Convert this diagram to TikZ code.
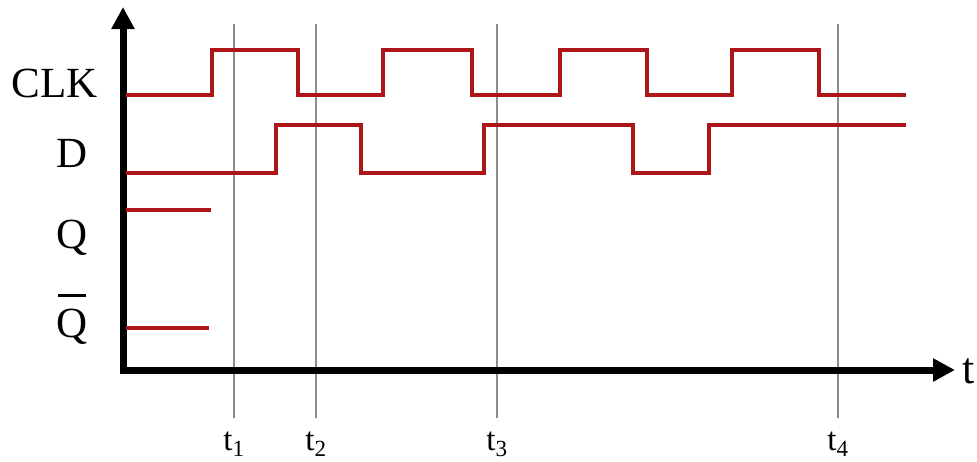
\documentclass[tikz,border=0pt]{standalone}
\usepackage{amsmath}
\usepackage{fontspec}
\setmainfont{Liberation Serif}
\usepackage{tikz}
\usetikzlibrary{arrows.meta}
\definecolor{wavered}{RGB}{172,22,24}
\definecolor{guidegray}{RGB}{140,140,140}
\newcommand{\barQ}{\setbox0\hbox{Q}\rlap{\hspace{2pt}\rule[40pt]{\dimexpr\wd0-4pt\relax}{3.5pt}}Q}
\tikzset{
  axis/.style={line width=7pt, line join=miter, {Triangle[length=22pt,width=22pt]}-{Triangle[length=22pt,width=22pt]}},
  wave/.style={wavered, line width=4pt, line join=miter},
  guide/.style={guidegray, line width=1.8pt},
  siglabel/.style={anchor=base, inner sep=0pt, font=\fontsize{43}{50}\selectfont},
  tlabel/.style={anchor=base, inner sep=0pt, font=\fontsize{33}{40}\selectfont}
}
\begin{document}
\begin{tikzpicture}[x=1pt, y=-1pt]
            \useasboundingbox (0,0) rectangle (977,461);
            \coordinate (ytip) at (123,7);
            \coordinate (xtip) at (955,370);
            \foreach \x/\n in {234/1,316/2,497/3,838/4}{
              \coordinate (top\n) at (\x,24);
              \coordinate (bot\n) at (\x,418);
              \draw[guide] (top\n) -- (bot\n);
              \node[tlabel] (t\n) at (\x,450) {t$_{\text{\n}}$};
            }
            \draw[axis] (ytip) |- (xtip);
            \draw[wave] (126,95) -| (212,50) -| (298,95) -| (383,50) -| (472,95) -| (560,50) -| (647,95) -| (732,50) -| (819,95) -- (906,95);
            \draw[wave] (126,173) -| (276,125) -| (361,173) -| (484,125) -| (633,173) -| (709,125) -- (906,125);
            \draw[wave] (126,210) -- (211,210);
            \draw[wave] (126,328) -- (209,328);
            \node[siglabel] (clk) at (55,97) {CLK};
            \node[siglabel] (d) at (72,167) {D};
            \node[siglabel] (q) at (72,248) {Q};
            \node[siglabel] (qbar) at (72,337) {\barQ};
            \node[siglabel, font=\fontsize{44}{50}\selectfont] (t) at (969,383) {t};
        \end{tikzpicture}
\end{document}
